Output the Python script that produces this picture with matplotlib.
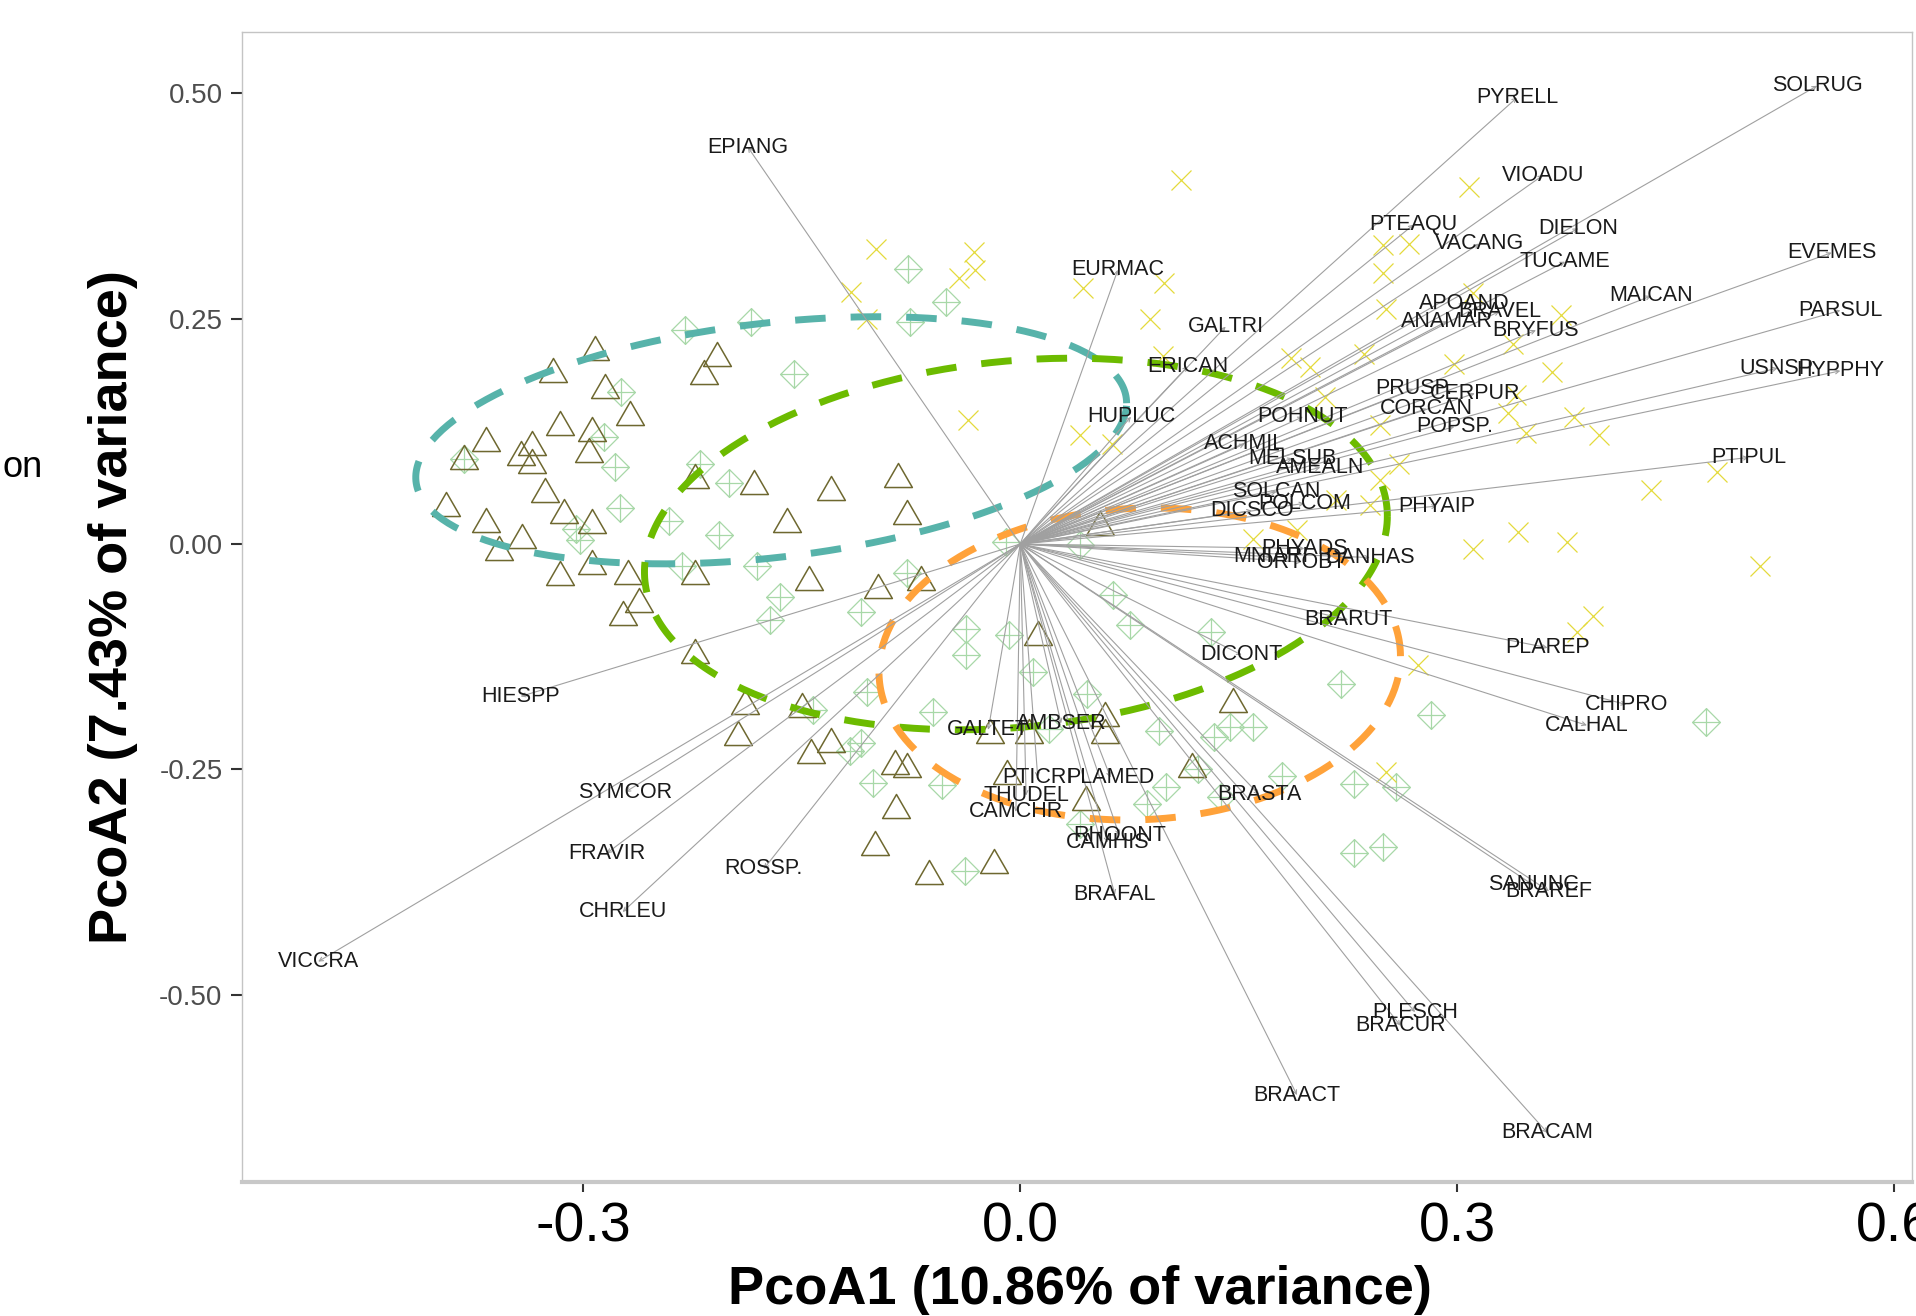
import numpy as np
import matplotlib
matplotlib.use('Agg')
import matplotlib.pyplot as plt
from matplotlib.path import Path

plt.rcParams['font.family'] = ['Liberation Sans', 'DejaVu Sans']

# site scores, group 1 (open triangles)
tri_x = [-0.292, -0.321, -0.285, -0.208, -0.217, -0.268, -0.316, -0.294, -0.367, -0.335,
         -0.296, -0.382, -0.343, -0.335, -0.326, -0.394, -0.313, -0.367, -0.294, -0.342,
         -0.358, -0.294, -0.316, -0.269, -0.223, -0.223, -0.183, -0.130, -0.084, -0.078,
         -0.160, -0.145, -0.098, -0.262, -0.273, -0.223, -0.068, 0.012, -0.189, -0.150,
         -0.194, -0.130, -0.144, -0.086, -0.078, -0.021, 0.006, -0.009, -0.085, -0.100,
         0.045, -0.063, -0.018, 0.058, 0.058, 0.146, 0.118, 0.055]
tri_y = [0.217, 0.193, 0.175, 0.211, 0.191, 0.145, 0.134, 0.128, 0.116, 0.112,
         0.104, 0.097, 0.101, 0.092, 0.060, 0.044, 0.037, 0.027, 0.025, 0.009,
         -0.004, -0.020, -0.032, -0.031, -0.031, 0.075, 0.069, 0.062, 0.076, 0.036,
         0.027, -0.038, -0.047, -0.062, -0.076, -0.119, -0.038, -0.099, -0.175, -0.179,
         -0.210, -0.217, -0.229, -0.242, -0.245, -0.207, -0.207, -0.253, -0.291, -0.332,
         -0.282, -0.364, -0.351, -0.188, -0.207, -0.173, -0.245, 0.023]

# group 2 (diamond plus)
dia_x = [-0.230, -0.185, -0.076, -0.274, -0.155, -0.286, -0.382, -0.278, -0.220, -0.200,
         -0.275, -0.241, -0.207, -0.305, -0.302, -0.232, -0.181, -0.165, -0.172, -0.109,
         -0.078, -0.105, -0.077, -0.051, -0.010, 0.041, -0.037, -0.037, -0.008, 0.009,
         0.046, -0.060, -0.142, -0.109, -0.117, -0.101, -0.054, 0.020, 0.041, 0.064,
         0.075, 0.131, 0.095, 0.144, 0.160, 0.133, 0.220, 0.282, 0.471, 0.122,
         0.180, 0.229, 0.258, 0.100, 0.087, 0.138, 0.229, 0.249, -0.038]
dia_y = [0.237, 0.246, 0.246, 0.169, 0.188, 0.119, 0.094, 0.085, 0.089, 0.068,
         0.040, 0.026, 0.010, 0.017, 0.004, -0.024, -0.024, -0.059, -0.084, -0.075,
         -0.032, -0.164, 0.305, 0.268, 0.002, -0.001, -0.094, -0.123, -0.101, -0.142,
         -0.166, -0.186, -0.184, -0.221, -0.229, -0.265, -0.267, -0.205, -0.310, -0.057,
         -0.090, -0.098, -0.207, -0.203, -0.203, -0.214, -0.155, -0.190, -0.197, -0.249,
         -0.257, -0.266, -0.269, -0.269, -0.288, -0.281, -0.343, -0.336, -0.362]

# group 3 (crosses)
cross_x = [0.110, -0.099, -0.032, -0.031, -0.042, -0.116, 0.043, 0.099, -0.105, 0.089,
           0.098, -0.036, 0.041, 0.063, 0.186, 0.199, 0.160, 0.190, 0.308, 0.249,
           0.267, 0.249, 0.251, 0.311, 0.371, 0.338, 0.236, 0.298, 0.365, 0.209,
           0.335, 0.380, 0.347, 0.397, 0.247, 0.260, 0.478, 0.433, 0.247, 0.340,
           0.240, 0.342, 0.311, 0.375, 0.508, 0.393, 0.382, 0.273, 0.217, 0.251]
cross_y = [0.404, 0.327, 0.324, 0.304, 0.295, 0.279, 0.284, 0.289, 0.250, 0.250,
           0.208, 0.138, 0.121, 0.111, 0.206, 0.196, 0.006, 0.015, 0.396, 0.331,
           0.333, 0.300, 0.261, 0.278, 0.254, 0.222, 0.211, 0.200, 0.191, 0.163,
           0.145, 0.141, 0.123, 0.121, 0.132, 0.089, 0.080, 0.060, 0.071, 0.165,
           0.043, 0.013, -0.005, 0.002, -0.024, -0.080, -0.098, -0.134, 0.049, -0.253]

# species vectors
species = ['SOLRUG', 'PYRELL', 'EPIANG', 'VIOADU', 'PTEAQU', 'DIELON', 'VACANG', 'EVEMES',
           'EURMAC', 'TUCAME', 'MAICAN', 'APOAND', 'BRAVEL', 'ANAMAR', 'BRYFUS', 'PARSUL',
           'GALTRI', 'ERICAN', 'USNSP.', 'HYPPHY', 'PRUSP.', 'CERPUR', 'CORCAN', 'POHNUT',
           'HUPLUC', 'POPSP.', 'ACHMIL', 'MELSUB', 'AMEALN', 'PTIPUL', 'SOLCAN', 'POLCOM',
           'DICSCO', 'PHYAIP', 'PHYADS', 'MNIARI', 'ORTOBT', 'DANHAS', 'BRARUT', 'PLAREP',
           'DICONT', 'CHIPRO', 'CALHAL', 'HIESPP', 'GALTET', 'AMBSER', 'PTICRI', 'PLAMED',
           'THUDEL', 'CAMCHR', 'BRASTA', 'SYMCOR', 'RHOONT', 'CAMHIS', 'FRAVIR', 'ROSSP.',
           'SANUNC', 'BRAREF', 'BRAFAL', 'CHRLEU', 'VICCRA', 'PLESCH', 'BRACUR', 'BRAACT',
           'BRACAM']
sp_x = [0.547, 0.341, -0.187, 0.359, 0.270, 0.383, 0.315, 0.557,
        0.067, 0.374, 0.433, 0.305, 0.329, 0.293, 0.354, 0.563,
        0.141, 0.115, 0.520, 0.563, 0.270, 0.312, 0.279, 0.194,
        0.076, 0.298, 0.154, 0.187, 0.206, 0.500, 0.176, 0.195,
        0.159, 0.286, 0.195, 0.172, 0.193, 0.240, 0.225, 0.362,
        0.152, 0.416, 0.389, -0.343, -0.022, 0.028, 0.012, 0.062,
        0.004, -0.003, 0.164, -0.271, 0.068, 0.060, -0.284, -0.176,
        0.352, 0.363, 0.065, -0.273, -0.482, 0.271, 0.261, 0.190,
        0.362]
sp_y = [0.508, 0.495, 0.440, 0.409, 0.354, 0.350, 0.333, 0.323,
        0.304, 0.313, 0.275, 0.267, 0.258, 0.247, 0.237, 0.259,
        0.241, 0.197, 0.195, 0.192, 0.172, 0.167, 0.150, 0.141,
        0.141, 0.130, 0.111, 0.095, 0.085, 0.096, 0.058, 0.045,
        0.037, 0.042, -0.005, -0.014, -0.020, -0.015, -0.084, -0.115,
        -0.123, -0.178, -0.201, -0.169, -0.206, -0.199, -0.259, -0.259,
        -0.279, -0.297, -0.278, -0.275, -0.323, -0.331, -0.343, -0.360,
        -0.378, -0.385, -0.389, -0.408, -0.463, -0.519, -0.534, -0.611,
        -0.653]

# group ellipses: centre, x half-extent, y half-extent, correlation
ell_cx = [-0.171, -0.003, 0.082]
ell_cy = [0.115, 0.000, -0.133]
ell_sx = [0.244, 0.255, 0.179]
ell_sy = [0.137, 0.206, 0.173]
ell_r = [0.30, 0.15, 0.05]
ell_col = ['#57B3AA', '#6CBB00', '#FFA23A']

fig = plt.figure(figsize=(19.16, 13.16), dpi=100)
ax = fig.add_axes([0.1263, 0.1018, 0.8717, 0.8739])

# markers
tri_marker = Path([(-1, -0.866), (1, -0.866), (0, 0.866), (-1, -0.866)],
                  [Path.MOVETO, Path.LINETO, Path.LINETO, Path.CLOSEPOLY])
dia_marker = Path([(0, 1), (1, 0), (0, -1), (-1, 0), (0, 1),
                   (0, 1), (0, -1), (-1, 0), (1, 0)],
                  [Path.MOVETO, Path.LINETO, Path.LINETO, Path.LINETO, Path.CLOSEPOLY,
                   Path.MOVETO, Path.LINETO, Path.MOVETO, Path.LINETO])

ax.plot(dia_x, dia_y, linestyle='none', marker=dia_marker, markersize=20,
        markerfacecolor='none', markeredgecolor='#A8D8A8', markeredgewidth=0.9)
ax.plot(cross_x, cross_y, linestyle='none', marker='x', markersize=14,
        markeredgecolor='#E4DA3C', markeredgewidth=0.9)
ax.plot(tri_x, tri_y, linestyle='none', marker=tri_marker, markersize=20,
        markerfacecolor='none', markeredgecolor='#6E6830', markeredgewidth=1.1)

# ellipses
t = np.linspace(0, 2 * np.pi, 300)
for cx, cy, sx, sy, r, col in zip(ell_cx, ell_cy, ell_sx, ell_sy, ell_r, ell_col):
    ex = cx + sx * np.cos(t)
    ey = cy + sy * (r * np.cos(t) + np.sqrt(1 - r ** 2) * np.sin(t))
    ax.plot(ex, ey, color=col, linewidth=5, linestyle=(0, (4.4, 3.6)),
            solid_capstyle='butt', dash_capstyle='butt')

# species arrows and labels
for name, x, y in zip(species, sp_x, sp_y):
    ax.annotate('', xy=(x, y), xytext=(0, 0),
                arrowprops=dict(arrowstyle='->', color='#A0A0A0', lw=0.8,
                                mutation_scale=7, shrinkA=0, shrinkB=0))
for name, x, y in zip(species, sp_x, sp_y):
    ax.text(x, y, name, ha='center', va='center', fontsize=15.5, color='#1A1A1A')

ax.set_xlim(-0.5343, 0.6123)
ax.set_ylim(-0.7074, 0.5677)

ax.set_xticks([-0.3, 0.0, 0.3, 0.6])
ax.set_xticklabels(['-0.3', '0.0', '0.3', '0.6'])
ax.set_yticks([-0.5, -0.25, 0.0, 0.25, 0.5])
ax.set_yticklabels(['-0.50', '-0.25', '0.00', '0.25', '0.50'])
ax.tick_params(axis='x', labelsize=40, length=7, width=1.5, color='#333333',
               labelcolor='black', pad=7)
ax.tick_params(axis='y', labelsize=20, length=8, width=1.5, color='#333333',
               labelcolor='#4D4D4D', pad=6)

for side in ['left', 'top', 'right']:
    ax.spines[side].set_color('#C4C4C4')
    ax.spines[side].set_linewidth(1.0)
ax.spines['bottom'].set_color('#C8C8C8')
ax.spines['bottom'].set_linewidth(3)

fig.text(0.5638, 0.009, 'PcoA1 (10.86% of variance)', ha='center', va='baseline',
         fontsize=39, fontweight='bold')
fig.text(0.0663, 0.5388, 'PcoA2 (7.43% of variance)', ha='center', va='baseline',
         rotation=90, rotation_mode='anchor', fontsize=39, fontweight='bold')
fig.text(0.0224, 0.6375, 'on', ha='right', va='baseline', fontsize=26)

fig.savefig('out.png', dpi=100)
